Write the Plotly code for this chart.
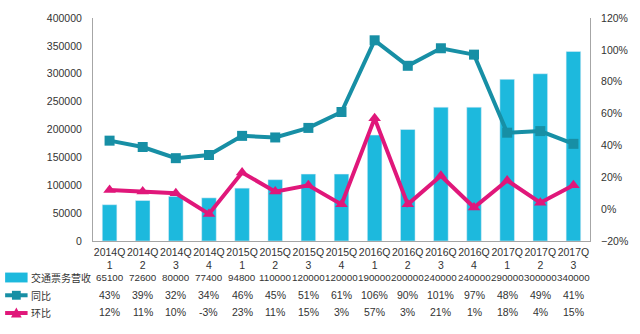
import plotly.graph_objects as go

categories = ["2014Q<br>1", "2014Q<br>2", "2014Q<br>3", "2014Q<br>4",
              "2015Q<br>1", "2015Q<br>2", "2015Q<br>3", "2015Q<br>4",
              "2016Q<br>1", "2016Q<br>2", "2016Q<br>3", "2016Q<br>4",
              "2017Q<br>1", "2017Q<br>2", "2017Q<br>3"]
revenue = [65100, 72600, 80000, 77400, 94800, 110000, 120000, 120000,
           190000, 200000, 240000, 240000, 290000, 300000, 340000]
yoy = [43, 39, 32, 34, 46, 45, 51, 61, 106, 90, 101, 97, 48, 49, 41]
qoq = [12, 11, 10, -3, 23, 11, 15, 3, 57, 3, 21, 1, 18, 4, 15]
series_names = ["交通票务营收", "同比", "环比"]

W, H = 640, 334
ML, MR, MT, MB = 93, 38, 15, 93
BAR_C = "#1DB9DD"
YOY_C = "#178FA5"
QOQ_C = "#E0177A"
TXT = "#333333"
FONT = "Liberation Sans"
CJK = "Noto Sans CJK SC"

fig = go.Figure()
x = list(range(len(categories)))
fig.add_trace(go.Bar(x=x, y=revenue, marker_color=BAR_C, width=0.44,
                     name=series_names[0], yaxis="y"))
fig.add_trace(go.Scatter(x=x, y=[v / 100 for v in yoy], mode="lines+markers",
                         line=dict(color=YOY_C, width=4),
                         marker=dict(symbol="square", size=10, color=YOY_C),
                         name=series_names[1], yaxis="y2"))
fig.add_trace(go.Scatter(x=x, y=[v / 100 for v in qoq], mode="lines+markers",
                         line=dict(color=QOQ_C, width=4),
                         marker=dict(symbol="triangle-up", size=11, color=QOQ_C),
                         name=series_names[2], yaxis="y2"))

ph = H - MT - MB
pw = W - ML - MR

def py(pix):
    return (H - MB - pix) / ph

def px(pix):
    return (pix - ML) / pw

anns = []
rows = [(revenue, lambda v: str(v), 278, 9.8),
        (yoy, lambda v: f"{v}%", 296, 10.5),
        (qoq, lambda v: f"{v}%", 313, 10.5)]
for vals, fmt, ypix, fs in rows:
    for i, v in enumerate(vals):
        anns.append(dict(x=i, y=py(ypix), xref="x", yref="paper", text=fmt(v),
                         showarrow=False, font=dict(size=fs, color=TXT, family=FONT),
                         xanchor="center", yanchor="middle"))
for name, ypix in zip(series_names, [278, 296, 313]):
    anns.append(dict(x=px(27), y=py(ypix), xref="paper", yref="paper", text=name,
                     showarrow=False, font=dict(size=10, color=TXT, family=CJK),
                     xanchor="left", yanchor="middle"))

shapes = [
    dict(type="rect", xref="paper", yref="paper", x0=px(3), x1=px(26),
         y0=py(283), y1=py(273), fillcolor=BAR_C, line=dict(width=0)),
    dict(type="line", xref="paper", yref="paper", x0=px(3), x1=px(26),
         y0=py(296), y1=py(296), line=dict(color=YOY_C, width=4)),
    dict(type="rect", xref="paper", yref="paper", x0=px(10), x1=px(19),
         y0=py(300.5), y1=py(291.5), fillcolor=YOY_C, line=dict(width=0)),
    dict(type="line", xref="paper", yref="paper", x0=px(3), x1=px(26),
         y0=py(314), y1=py(314), line=dict(color=QOQ_C, width=4)),
    dict(type="path", xref="paper", yref="paper",
         path=f"M {px(9)} {py(318.5)} L {px(20)} {py(318.5)} L {px(14.5)} {py(308.5)} Z",
         fillcolor=QOQ_C, line=dict(width=0)),
]

fig.update_layout(
    width=W, height=H,
    margin=dict(l=ML, r=MR, t=MT, b=MB),
    paper_bgcolor="white", plot_bgcolor="white",
    showlegend=False,
    font=dict(family=FONT, size=11, color=TXT),
    xaxis=dict(tickmode="array", tickvals=x, ticktext=categories, tickangle=0,
               range=[-0.5, len(categories) - 0.5], showline=True,
               linecolor="#A6A6A6", linewidth=1, ticks="", showgrid=False,
               tickfont=dict(size=10.5, color=TXT), ticklabelstandoff=1),
    yaxis=dict(range=[0, 400000], dtick=50000, showgrid=False, zeroline=False,
               showline=True, linecolor="#A6A6A6", linewidth=1,
               tickformat="d", tickfont=dict(size=10.5, color=TXT), ticks="",
               ticklabelstandoff=8),
    yaxis2=dict(range=[-0.2, 1.2], dtick=0.2, overlaying="y", side="right",
                showgrid=False, zeroline=False, showline=True,
                linecolor="#A6A6A6", linewidth=1, tickformat=".0%",
                tickfont=dict(size=10.5, color=TXT), ticks="",
                ticklabelstandoff=8),
    annotations=anns, shapes=shapes, bargap=0.5,
)
fig.write_html("out.html")
